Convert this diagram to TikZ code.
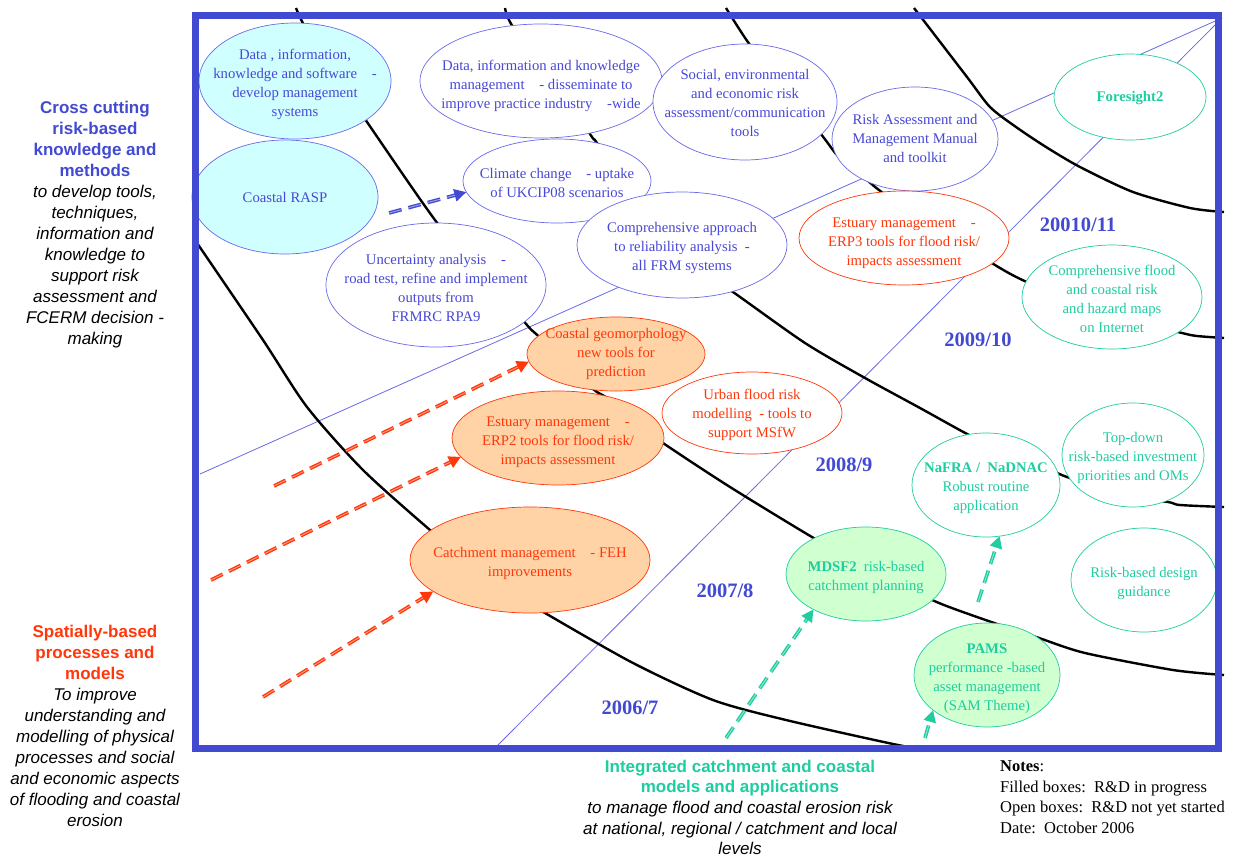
\documentclass[tikz,border=0pt]{standalone}
\usepackage{fontspec}
\setmainfont{Liberation Serif}
\newfontfamily\sansf{Liberation Sans}
\usetikzlibrary{shapes.geometric,arrows.meta}
\definecolor{framec}{RGB}{66,74,210}
\definecolor{blueln}{RGB}{105,105,235}
\definecolor{bluetx}{RGB}{72,72,215}
\definecolor{redc}{RGB}{255,55,10}
\definecolor{peach}{RGB}{255,211,166}
\definecolor{cyanf}{RGB}{208,255,255}
\definecolor{greenf}{RGB}{208,255,208}
\definecolor{tealc}{RGB}{30,205,160}
\newcommand\bubf{\fontsize{14.7}{19}\selectfont}
\newcommand\sidef{\sansf\fontsize{17}{21}\selectfont}
\newcommand\integf{\sansf\fontsize{17}{20.7}\selectfont}
\newcommand\yearf{\fontsize{20.5}{24}\selectfont\bfseries}
\newcommand\notef{\fontsize{16.5}{20.7}\selectfont}
% bubble text: stacked lines, lowered a little without changing the box
\newcommand\bt[2][3pt]{\raisebox{-#1}[\height][\depth]{\begin{tabular}{@{}c@{}}#2\end{tabular}}}
\tikzset{
  bub/.style={ellipse, inner sep=-60pt, outer sep=0pt, font=\bubf, line width=0.7pt},
  bluebub/.style={bub, draw=blueln, fill=white, text=bluetx},
  cyanbub/.style={bub, draw=blueln, fill=cyanf, text=bluetx},
  redbub/.style={bub, draw=redc, fill=white, text=redc},
  peachbub/.style={bub, draw=redc, fill=peach, text=redc},
  tealbub/.style={bub, draw=tealc, fill=white, text=tealc},
  greenbub/.style={bub, draw=tealc, fill=greenf, text=tealc},
  curve/.style={draw=black, line width=2.4pt, line join=round},
  thinln/.style={draw=blueln, line width=0.8pt},
  dasharrow/.style={line width=3.6pt, dash pattern=on 13pt off 7pt, -{Triangle[length=12pt,width=12pt]},
    postaction={draw=#1!50, line width=0.9pt, dash pattern=on 13pt off 7pt, -, shorten >=12pt}},
  rarrow/.style={draw=redc, dasharrow=redc},
  barrow/.style={draw=framec, dasharrow=framec},
  tarrow/.style={draw=tealc, dasharrow=tealc},
  yearlab/.style={font=\yearf, text=framec, inner sep=0pt},
  sidetxt/.style={align=center, font=\sidef, inner sep=0pt, anchor=north}
}
\begin{document}
\begin{tikzpicture}[x=1pt,y=-1pt]
\useasboundingbox (0,0) rectangle (1234,857);
\fill[white] (0,0) rectangle (1234,857);

% perspective thin lines
\coordinate (corner) at (1222,18);
\coordinate (l1s) at (200,474);
\coordinate (l2s) at (495,748);
\draw[thinln] (l1s) -- (corner);
\draw[thinln] (l2s) -- (corner);

% black year boundary curves
\draw[curve] plot[smooth, tension=0.45] coordinates {(197,243) (263,340) (307,407) (363,470) (430,530) (490,580) (545,613) (633,663) (713,700) (786,720) (898,745) (935,750)};
\draw[curve] plot[smooth, tension=0.45] coordinates {(296,8) (305,27) (335,75) (367,122) (438,224) (485,275) (527,325) (535,333) (565,360) (593,389) (607,398) (640,425) (663,443) (730,487) (817,540) (880,575) (939,603) (1000,625) (1039,638) (1085,653) (1173,670) (1224,675)};
\draw[curve] plot[smooth, tension=0.45] coordinates {(505,8) (513,27) (560,90) (592,137) (597,143) (640,205) (700,270) (733,292) (805,343) (865,378) (920,408) (969,435) (1010,455) (1057,473) (1067,477) (1120,495) (1168,502) (1180,505) (1224,507)};
\draw[curve] plot[smooth, tension=0.45] coordinates {(726,8) (750,45) (790,95) (824,138) (837,155) (855,170) (867,180) (886,195) (950,235) (995,265) (1029,283) (1110,315) (1182,333) (1197,336) (1224,338)};
\draw[curve] plot[smooth, tension=0.45] coordinates {(914,8) (967,77) (990,107) (1016,127) (1046,147) (1080,167) (1133,192) (1190,208) (1224,212)};

% bubbles
\node[cyanbub, minimum width=192, minimum height=116] (datainfo) at (295,81) {\bt{Data , information,\\knowledge and software\quad -\\develop management\\systems}};
\node[cyanbub, minimum width=186, minimum height=114] (rasp) at (285,197) {\bt[2pt]{Coastal RASP}};
\node[bluebub, minimum width=242, minimum height=114] (dataknow) at (541,81) {\bt[5pt]{Data, information and knowledge\\management\quad - disseminate to\\improve practice industry\quad -wide}};
\node[bluebub, minimum width=188, minimum height=84] (climate) at (557,181) {\bt{Climate change\quad - uptake\\of UKCIP08 scenarios}};
\node[bluebub, minimum width=220, minimum height=124] (uncert) at (436,285) {\bt[4pt]{Uncertainty analysis\quad -\\road test, refine and implement\\outputs from\\FRMRC RPA9}};
\node[bluebub, minimum width=210, minimum height=106] (compappr) at (682,245) {\bt{Comprehensive approach\\to reliability analysis\enspace -\\all FRM systems}};
\node[bluebub, minimum width=184, minimum height=116] (social) at (745,102) {\bt[2pt]{Social, environmental\\and economic risk\\assessment/communication\\tools}};
\node[bluebub, minimum width=166, minimum height=104] (riskman) at (915,139) {\bt[1pt]{Risk Assessment and\\Management Manual\\and toolkit}};
\node[tealbub, minimum width=152, minimum height=86] (foresight) at (1130,97) {\bt[1pt]{\textbf{Foresight2}}};
\node[redbub, minimum width=210, minimum height=94] (erp3) at (904,238) {\bt[5pt]{Estuary management\quad -\\ERP3 tools for flood risk/\\impacts assessment}};
\node[tealbub, minimum width=180, minimum height=104] (compflood) at (1112,297) {\bt{Comprehensive flood\\and coastal risk\\and hazard maps\\on Internet}};
\node[peachbub, minimum width=178, minimum height=74] (coastgeo) at (616,354) {\bt[0pt]{Coastal geomorphology\\new tools for\\prediction}};
\node[peachbub, minimum width=212, minimum height=94] (erp2) at (558,438) {\bt[4pt]{Estuary management\quad -\\ERP2 tools for flood risk/\\impacts assessment}};
\node[redbub, minimum width=180, minimum height=82] (urban) at (752,413) {\bt[2pt]{Urban flood risk\\modelling\enspace - tools to\\support MSfW}};
\node[peachbub, minimum width=240, minimum height=106] (catch) at (530,560) {\bt{Catchment management\quad - FEH\\improvements}};
\node[greenbub, minimum width=160, minimum height=94] (mdsf) at (866,574) {\bt{\textbf{MDSF2}\enspace risk-based\\catchment planning}};
\node[tealbub, minimum width=148, minimum height=104] (nafra) at (986,485) {\bt{\textbf{NaFRA /\enspace NaDNAC}\\Robust routine\\application}};
\node[tealbub, minimum width=142, minimum height=104] (topdown) at (1133,455) {\bt{Top-down\\risk-based investment\\priorities and OMs}};
\node[tealbub, minimum width=146, minimum height=104] (design) at (1144,580) {\bt{Risk-based design\\guidance}};
\node[greenbub, minimum width=146, minimum height=104] (pams) at (987,675) {\bt{\textbf{PAMS}\\performance -based\\asset management\\(SAM Theme)}};

% dashed arrows
\coordinate (b1s) at (389,213);
\coordinate (r1s) at (274,486);
\coordinate (r2s) at (211,580);
\coordinate (r3s) at (263,697);
\coordinate (t1s) at (726,738);
\coordinate (t2s) at (978,602);
\coordinate (t3s) at (925,738);
\draw[barrow] (b1s) -- (climate.187);
\draw[rarrow] (r1s) -- (coastgeo.185);
\draw[rarrow] (r2s) -- (erp2.191);
\draw[rarrow] (r3s) -- (catch.198);
\draw[tarrow] (t1s) -- (mdsf.214);
\draw[tarrow] (t2s) -- (nafra.285);
\draw[tarrow] (t3s) -- (pams.213);

% year labels
\node[yearlab] (y1) at (630,708) {2006/7};
\node[yearlab] (y2) at (725,591) {2007/8};
\node[yearlab] (y3) at (844,465) {2008/9};
\node[yearlab] (y4) at (978,340) {2009/10};
\node[yearlab] (y5) at (1078,225) {20010/11};

% frame
\draw[framec, line width=7pt] (195.5,15.5) rectangle (1218.5,748.5);

% side texts
\node[sidetxt] (crosscut) at (95,100.5) {\textcolor{framec}{\bfseries Cross cutting}\\\textcolor{framec}{\bfseries risk-based}\\\textcolor{framec}{\bfseries knowledge and}\\\textcolor{framec}{\bfseries methods}\\\itshape to develop tools,\\\itshape techniques,\\\itshape information and\\\itshape knowledge to\\\itshape support risk\\\itshape assessment and\\\itshape FCERM decision -\\\itshape making};
\node[sidetxt] (spatial) at (95,624.5) {\textcolor{redc}{\bfseries Spatially-based}\\\textcolor{redc}{\bfseries processes and}\\\textcolor{redc}{\bfseries models}\\\itshape To improve\\\itshape understanding and\\\itshape modelling of physical\\\itshape processes and social\\\itshape and economic aspects\\\itshape of flooding and coastal\\\itshape erosion};
\node[sidetxt, font=\integf] (integ) at (740,759.5) {\textcolor{tealc}{\bfseries Integrated catchment and coastal}\\\textcolor{tealc}{\bfseries models and applications}\\\itshape to manage flood and coastal erosion risk\\\itshape at national, regional / catchment and local\\\itshape levels};
\node[align=left, font=\notef, inner sep=0pt, anchor=north west] (notes) at (1000,760.5) {\textbf{Notes}:\\Filled boxes:\enspace R\&D in progress\\Open boxes:\enspace R\&D not yet started\\Date:\enspace October 2006};
\end{tikzpicture}
\end{document}
